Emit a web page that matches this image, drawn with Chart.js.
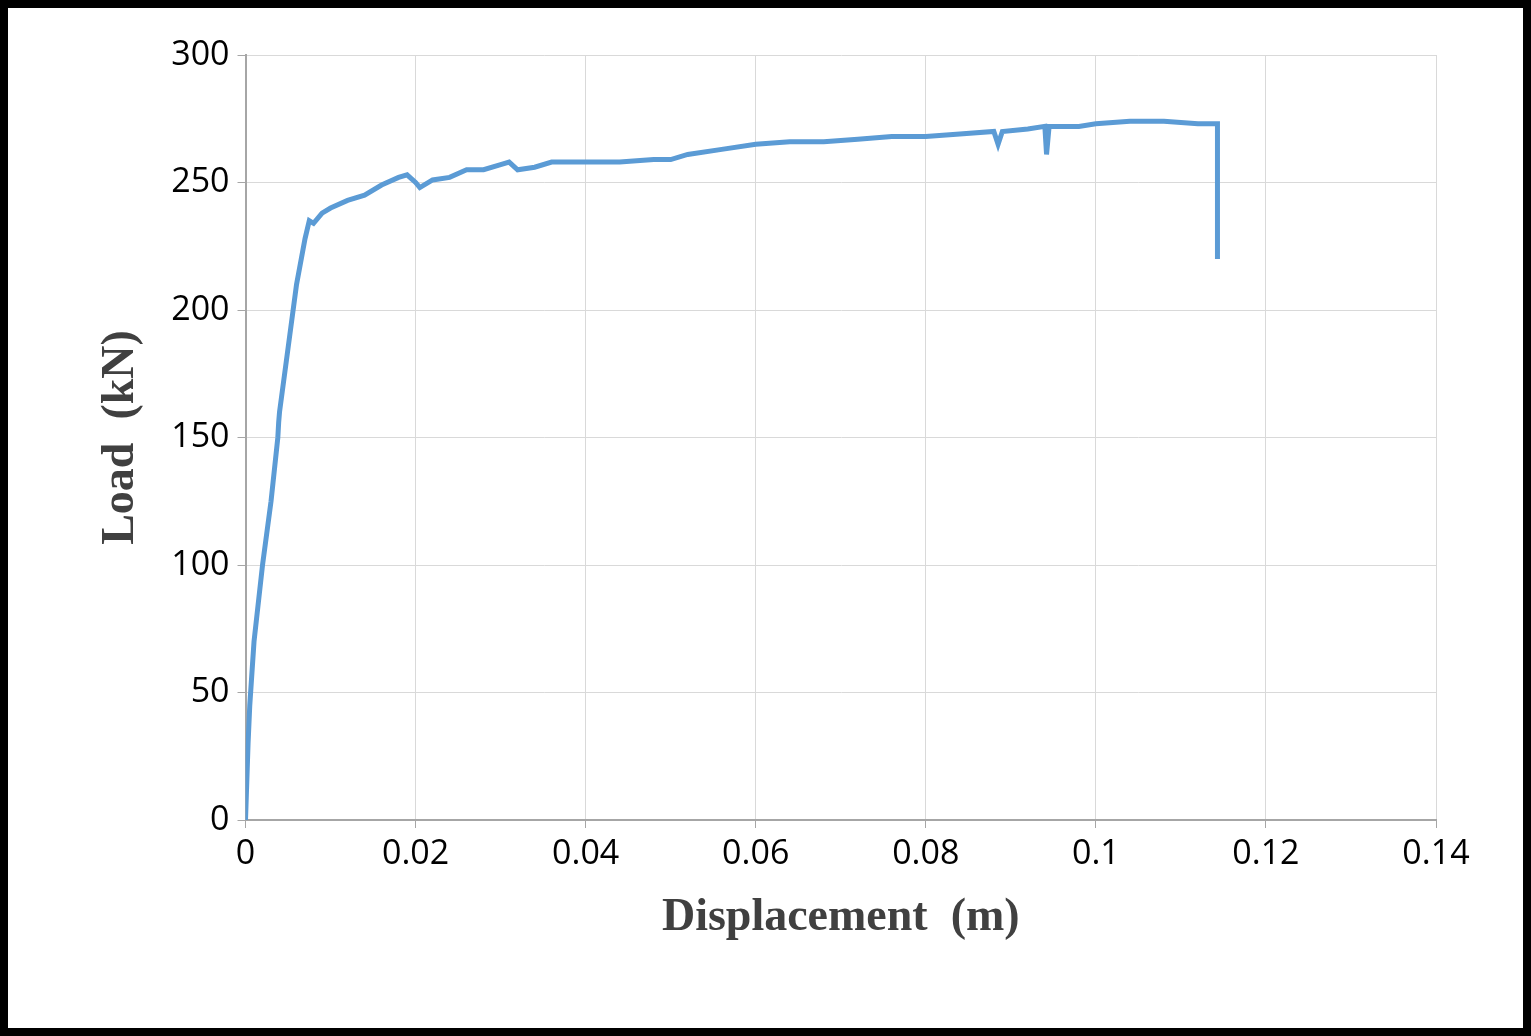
<!DOCTYPE html>
<html>
<head>
<meta charset="utf-8">
<script src="https://cdn.jsdelivr.net/npm/chart.js@4"></script>
<style>
  html, body { margin: 0; padding: 0; background: #fff; }
  #frame { position: absolute; left: 0; top: 0; width: 1531px; height: 1036px; box-sizing: border-box; border: 8px solid #000; }
  #wrap { position: absolute; left: 8px; top: 8px; width: 1515px; height: 1020px; }
</style>
</head>
<body>
<div id="frame"></div>
<div id="wrap"><canvas id="loadChart"></canvas></div>
<script>
// Displacement (m) vs Load (kN)
const displacement = [0, 0.0003, 0.0005, 0.001, 0.002, 0.003, 0.0038, 0.0039, 0.004, 0.005, 0.006, 0.007, 0.0075,
  0.008, 0.009, 0.01, 0.012, 0.014, 0.016, 0.018, 0.019, 0.02, 0.0205, 0.022, 0.024, 0.026, 0.028, 0.03, 0.031,
  0.032, 0.034, 0.036, 0.038, 0.04, 0.044, 0.048, 0.05, 0.052, 0.056, 0.06, 0.064, 0.068, 0.072, 0.076, 0.08,
  0.084, 0.088, 0.0885, 0.089, 0.092, 0.094, 0.0942, 0.0945, 0.098, 0.1, 0.104, 0.108, 0.112, 0.1143, 0.1143];
const load = [0, 30, 45, 70, 100, 125, 150, 156, 160, 185, 210, 228, 235,
  234, 238, 240, 243, 245, 249, 252, 253, 250, 248, 251, 252, 255, 255, 257, 258,
  255, 256, 258, 258, 258, 258, 259, 259, 261, 263, 265, 266, 266, 267, 268, 268,
  269, 270, 265, 270, 271, 272, 261, 272, 272, 273, 274, 274, 273, 273, 220];
const xTicks = [0, 0.02, 0.04, 0.06, 0.08, 0.1, 0.12, 0.14];
const yTicks = [0, 50, 100, 150, 200, 250, 300];

const points = displacement.map((x, i) => ({ x: x, y: load[i] }));

new Chart(document.getElementById('loadChart').getContext('2d'), {
  type: 'scatter',
  data: {
    datasets: [{
      data: points,
      showLine: true,
      borderColor: '#5b9bd5',
      borderWidth: 5,
      pointRadius: 0,
      tension: 0
    }]
  },
  options: {
    responsive: true,
    maintainAspectRatio: false,
    animation: false,
    layout: { padding: { left: 82, right: 87, top: 47, bottom: 78 } },
    plugins: { legend: { display: false }, tooltip: { enabled: false } },
    scales: {
      x: {
        type: 'linear', min: 0, max: 0.14,
        afterBuildTicks: axis => { axis.ticks = xTicks.map(v => ({ value: v })); },
        ticks: { color: '#000', font: { family: 'Open Sans', size: 34 }, padding: 6,
                 callback: v => String(v) },
        grid: { color: '#d9d9d9', lineWidth: 1, tickLength: 8, tickColor: '#a6a6a6' },
        border: { color: '#a6a6a6', width: 2 },
        title: { display: true, text: 'Displacement  (m)', color: '#404040',
                 font: { family: 'Liberation Serif', size: 46, weight: 'bold' }, padding: { top: 10 } }
      },
      y: {
        min: 0, max: 300,
        afterBuildTicks: axis => { axis.ticks = yTicks.map(v => ({ value: v })); },
        ticks: { color: '#000', font: { family: 'Open Sans', size: 34 }, padding: 8 },
        grid: { color: '#d9d9d9', lineWidth: 1, tickLength: 8, tickColor: '#a6a6a6' },
        border: { color: '#a6a6a6', width: 2 },
        title: { display: true, text: 'Load  (kN)', color: '#404040',
                 font: { family: 'Liberation Serif', size: 46, weight: 'bold' }, padding: { bottom: 14 } }
      }
    }
  }
});
</script>
</body>
</html>
